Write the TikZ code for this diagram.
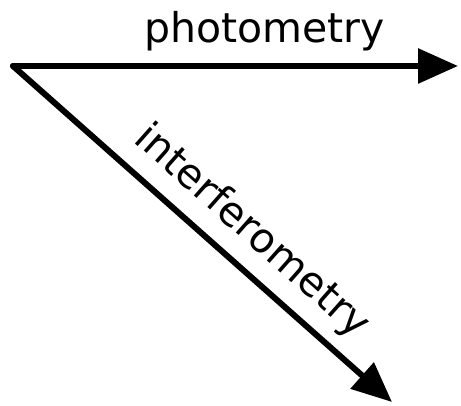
\documentclass[tikz,border=0pt]{standalone}
\usepackage{fontspec}
\setmainfont{DejaVu Sans}
\usetikzlibrary{arrows.meta}

\begin{document}
\begin{tikzpicture}[
  x=1pt,y=-1pt,
  every node/.style={font=\fontsize{41}{46}\selectfont},
  ray/.style={-{Triangle[length=40pt,width=34pt]},line width=6pt,line cap=round,line join=round},
  raylabel/.style={anchor=base,inner sep=0pt}
]
  \useasboundingbox (0,0) rectangle (461,406);
  \coordinate (origin) at (13,66);
  \coordinate (phot) at (458,66);
  \coordinate (intf) at (392,402);

  \draw[ray] (origin) -- node[raylabel,pos=0.565,yshift=23pt] (photlabel) {photometry} (phot);
  \draw[ray] (origin) -- node[raylabel,sloped,pos=0.57,yshift=23pt] (intflabel) {interferometry} (intf);
\end{tikzpicture}
\end{document}
